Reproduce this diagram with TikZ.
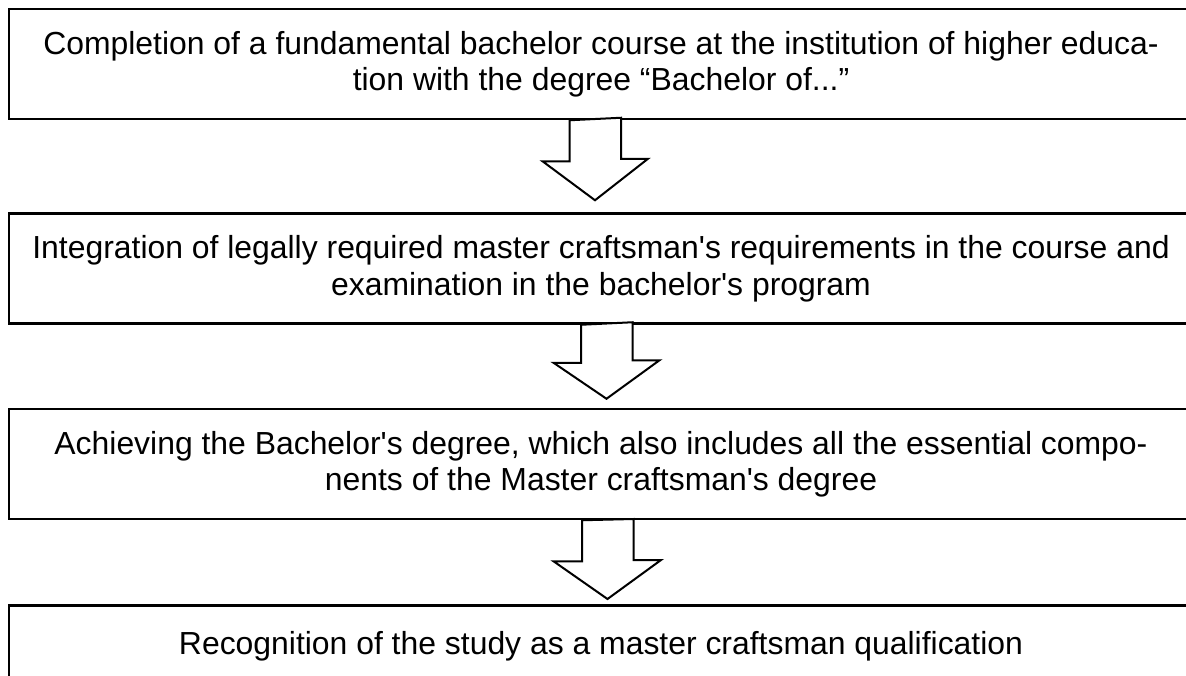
\documentclass[tikz,border=0pt]{standalone}
\usepackage{fontspec}
\newfontfamily\boxfont{Liberation Sans}
\usetikzlibrary{calc}

\begin{document}
\begin{tikzpicture}[x=1pt,y=-1pt,
    stage/.style={draw,line width=2.5pt,minimum width=1184pt,minimum height=110pt,
        inner sep=0pt,align=center,font=\boxfont\fontsize{31.9}{36.5}\selectfont},
    blockarrow/.style={draw,line width=2pt,fill=white,line join=miter}]

    % 画布
    \useasboundingbox (0,0) rectangle (1186,675);

    % 各阶段方框
    \node[stage] (b1) at (601,64) {Completion of a fundamental bachelor course at the institution of higher educa-\\tion with the degree “Bachelor of...”};
    \node[stage] (b2) at (601,268.5) {Integration of legally required master craftsman's requirements in the course and\\examination in the bachelor's program};
    \node[stage] (b3) at (601,464) {Achieving the Bachelor's degree, which also includes all the essential compo-\\nents of the Master craftsman's degree};
    \node[stage,anchor=north,minimum height=82pt] (b4) at (601,604) {Recognition of the study as a master craftsman qualification};

    % 箭头起点
    \coordinate (t1) at ([xshift=-6pt]b1.south);
    \coordinate (t2) at ([xshift=5.5pt]b2.south);
    \coordinate (t3) at ([xshift=6.5pt]b3.south);

    % 空心箭头
    \draw[blockarrow] ([xshift=-25.5pt]t1) -- ++(0,41) -- ++(-27,0) -- ([yshift=12pt]b2.north -| t1) -- ++(53,-41.5) -- ++(-27,0) -- ++(0,-41) -- cycle;
    \draw[blockarrow] ([xshift=-25.5pt]t2) -- ++(0,38) -- ++(-27.5,0) -- ([yshift=9pt]b3.north -| t2) -- ++(53,-38.5) -- ++(-27,0) -- ++(0,-38) -- cycle;
    \draw[blockarrow] ([xshift=-25.5pt]t3) -- ++(0,41) -- ++(-28.5,0) -- ([yshift=5pt]b4.north -| t3) -- ++(53.5,-39) -- ++(-27.5,0) -- ++(0,-41) -- cycle;

\end{tikzpicture}
\end{document}
